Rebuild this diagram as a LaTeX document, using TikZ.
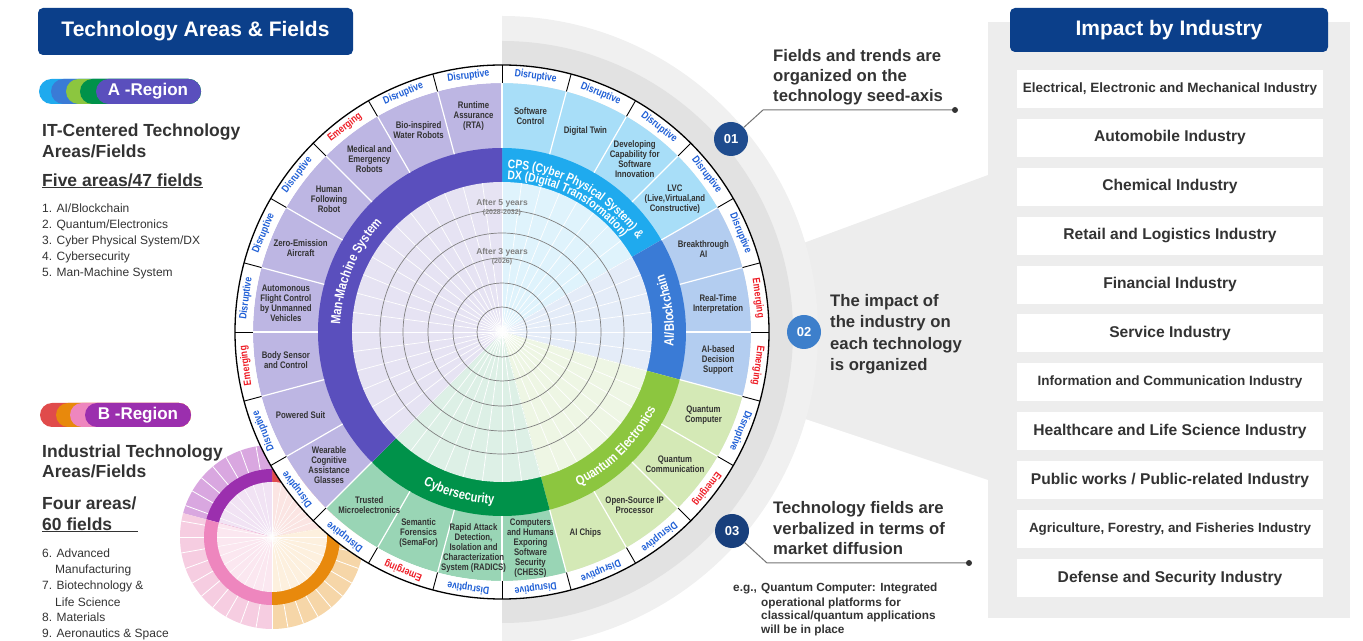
\documentclass[tikz,border=0pt]{standalone}
\usepackage{fontspec}
\setmainfont{Liberation Sans}
\newfontfamily\narrowfont[FakeStretch=0.82]{Liberation Sans}
\usetikzlibrary{decorations.text}

\definecolor{navy}{HTML}{0B3F8A}
\definecolor{ink}{HTML}{333333}
\definecolor{disblue}{HTML}{1F5FD6}
\definecolor{emgred}{HTML}{EE1C25}
\definecolor{panelgray}{HTML}{EDEDED}
\definecolor{ringgray}{HTML}{E2E2E2}
\definecolor{halogray}{HTML}{F0F0F0}
\definecolor{b01col}{HTML}{1F4C8E}
\definecolor{b02col}{HTML}{3D7FCB}
\definecolor{b03col}{HTML}{183F7C}
% area colours: Dark = area ring, Field = field ring, Core = inner disk
\definecolor{mmsDark}{HTML}{5A4FBD}\definecolor{mmsField}{HTML}{BDB6E3}\definecolor{mmsCore}{HTML}{E6E3F3}
\definecolor{cpsDark}{HTML}{1FAAEE}\definecolor{cpsField}{HTML}{A8DEF8}\definecolor{cpsCore}{HTML}{DFF3FC}
\definecolor{aiDark}{HTML}{3A7BD6}\definecolor{aiField}{HTML}{B3CDF0}\definecolor{aiCore}{HTML}{E4ECF8}
\definecolor{qeDark}{HTML}{8CC63F}\definecolor{qeField}{HTML}{D4E9B6}\definecolor{qeCore}{HTML}{EEF6E4}
\definecolor{csDark}{HTML}{00924A}\definecolor{csField}{HTML}{99D5B5}\definecolor{csCore}{HTML}{DDF0E6}
% small wheel (B region)
\definecolor{bredDark}{HTML}{E04B4B}\definecolor{bredField}{HTML}{F3B9B4}\definecolor{bredCore}{HTML}{FBE5E3}
\definecolor{bpurDark}{HTML}{9B2FAE}\definecolor{bpurField}{HTML}{D9A7E0}\definecolor{bpurCore}{HTML}{F1E3F4}
\definecolor{bpinkDark}{HTML}{EE86BE}\definecolor{bpinkField}{HTML}{F6CDE1}\definecolor{bpinkCore}{HTML}{FBE7F0}
\definecolor{boraDark}{HTML}{E8890C}\definecolor{boraField}{HTML}{F6D6A8}\definecolor{boraCore}{HTML}{FDF0DE}

\newcommand\areafont{\narrowfont\bfseries\fontsize{13.5}{14}\selectfont}
\newcommand\cpsfont{\narrowfont\bfseries\fontsize{12.5}{13}\selectfont}

\begin{document}
\begin{tikzpicture}[x=1pt, y=1pt,
  fieldtxt/.style={font=\narrowfont\bfseries\fontsize{9.5}{10}\selectfont, text=ink, align=center, inner sep=0pt},
  rim/.style={font=\narrowfont\bfseries\fontsize{10.5}{10.5}\selectfont, inner sep=0pt},
  Disruptive/.style={text=disblue},
  Emerging/.style={text=emgred},
  yearlbl/.style={text=gray, font=\bfseries\fontsize{8.5}{9}\selectfont, inner sep=0pt},
  badge/.style={circle, minimum size=34pt, inner sep=0pt, text=white, font=\bfseries\fontsize{13}{13}\selectfont},
  leader/.style={draw=gray!90!black, line width=1pt},
  note/.style={anchor=base west, text=ink, font=\bfseries\fontsize{16.7}{20}\selectfont, inner sep=0pt},
  egtxt/.style={anchor=base west, text=ink, font=\bfseries\fontsize{11.8}{14}\selectfont, inner sep=0pt},
  indbox/.style={fill=white, minimum width=306pt, minimum height=38pt, text=ink, inner sep=0pt},
  head/.style={fill=navy, rounded corners=5pt, text=white, font=\bfseries\fontsize{21}{21}\selectfont},
  sidehead/.style={anchor=base west, text=ink, font=\bfseries\fontsize{17.5}{21}\selectfont, inner sep=0pt},
  item/.style={anchor=base west, text=ink, font=\fontsize{12}{16}\selectfont, inner sep=0pt},
  pilltxt/.style={text=white, font=\bfseries\fontsize{17}{17}\selectfont, inner sep=0pt}
]
\useasboundingbox (0,0) rectangle (1363,640);

% backdrop: funnel, industry panel, grey half rings
\fill[panelgray] (554,305) -- (988,465) -- (988,160) -- cycle;
\fill[panelgray] (988,22) rectangle (1350,618);
\fill[halogray] (502,-8) arc[start angle=-90, end angle=90, radius=316] -- cycle;
\fill[ringgray] (502,17) arc[start angle=-90, end angle=90, radius=291] -- cycle;

% small wheel of the B region
\begin{scope}[shift={(272,103)}]
  \foreach \st/\en/\grp in {10/90/bred, 90/165/bpur, 165/270/bpink, 270/370/bora} {
    \fill[fill=\grp Field] (0,0) -- (\st:92) arc[start angle=\st, end angle=\en, radius=92] -- cycle;
    \fill[fill=\grp Dark] (0,0) -- (\st:68) arc[start angle=\st, end angle=\en, radius=68] -- cycle;
    \fill[fill=\grp Core] (0,0) -- (\st:55) arc[start angle=\st, end angle=\en, radius=55] -- cycle;
  }
  \foreach \t in {0,10,...,350} {
    \draw[white, line width=0.5pt] (0,0) -- (\t:55);
    \draw[white, line width=0.8pt] (\t:68) -- (\t:92);
  }
\end{scope}

% main wheel
\begin{scope}[shift={(502,308)}]
  \foreach \st/\en/\grp in {30/90/cps, -15/30/ai, -75/-15/qe, -135/-75/cs, 90/225/mms} {
    \fill[fill=\grp Field] (0,0) -- (\st:249) arc[start angle=\st, end angle=\en, radius=249] -- cycle;
    \fill[fill=\grp Dark] (0,0) -- (\st:184) arc[start angle=\st, end angle=\en, radius=184] -- cycle;
    \fill[fill=\grp Core] (0,0) -- (\st:150) arc[start angle=\st, end angle=\en, radius=150] -- cycle;
  }
  \fill[white, even odd rule] (0,0) circle (267) (0,0) circle (249);
  \foreach \t in {0,7.5,...,352.5}
    \draw[white, line width=0.7pt] (0,0) -- (\t:150);
  \foreach \t in {0,15,...,345} {
    \draw[white, line width=1.2pt] (\t:184) -- (\t:249);
    \draw[line width=0.9pt] (\t:249) -- (\t:267);
  }
  \draw[line width=1.3pt] (0,0) circle (267);
  \foreach \r in {25,49,74,99,122}
    \draw[gray, line width=0.7pt] (0,0) circle (\r);

  \node[yearlbl] (yr5) at (0,129) {After 5 years};
  \node[yearlbl, font=\bfseries\fontsize{7}{7}\selectfont] (yr5d) at (0,119) {(2028-2032)};
  \node[yearlbl] (yr3) at (0,80) {After 3 years};
  \node[yearlbl, font=\bfseries\fontsize{7}{7}\selectfont] (yr3d) at (0,70) {(2026)};

  % fields and their diffusion stage
  \foreach \ang/\kind/\lbl [count=\i] in {
    82.5/Disruptive/{Software\\Control},
    67.5/Disruptive/{Digital Twin},
    52.5/Disruptive/{Developing\\Capability for\\Software\\Innovation},
    37.5/Disruptive/{LVC\\(Live,Virtual,and\\Constructive)},
    22.5/Disruptive/{Breakthrough\\AI},
    7.5/Emerging/{Real-Time\\Interpretation},
    -7.5/Emerging/{AI-based\\Decision\\Support},
    -22.5/Disruptive/{Quantum\\Computer},
    -37.5/Emerging/{Quantum\\Communication},
    -52.5/Disruptive/{Open-Source IP\\Processor},
    -67.5/Disruptive/{AI Chips},
    -82.5/Disruptive/{Computers\\and Humans\\Exporing\\Software\\Security\\(CHESS)},
    -97.5/Disruptive/{Rapid Attack\\Detection,\\Isolation and\\Characterization\\System (RADICS)},
    -112.5/Emerging/{Semantic\\Forensics\\(SemaFor)},
    -127.5/Disruptive/{Trusted\\Microelectronics},
    -142.5/Disruptive/{Wearable\\Cognitive\\Assistance\\Glasses},
    -157.5/Disruptive/{Powered Suit},
    -172.5/Emerging/{Body Sensor\\and Control},
    172.5/Disruptive/{Automonous\\Flight Control\\by Unmanned\\Vehicles},
    157.5/Disruptive/{Zero-Emission\\Aircraft},
    142.5/Disruptive/{Human\\Following\\Robot},
    127.5/Emerging/{Medical and\\Emergency\\Robots},
    112.5/Disruptive/{Bio-inspired\\Water Robots},
    97.5/Disruptive/{Runtime\\Assurance\\(RTA)}} {
    \node[fieldtxt] (fld\i) at (\ang:218) {\lbl};
    \node[rim, \kind, rotate=\ang-90] (rim\i) at (\ang:258) {\kind};
  }

  % area names along the ring
  \path[decorate, decoration={text along path, text align=left, text color=white,
    text={|\cpsfont|CPS (Cyber Physical System) {\&}}}]
    (88:164) arc[start angle=88, end angle=20, radius=164];
  \path[decorate, decoration={text along path, text align=left, text color=white,
    text={|\cpsfont|DX (Digital Transformation)}}]
    (88:153) arc[start angle=88, end angle=20, radius=153];
  \path[decorate, decoration={text along path, text align=center, text color=white,
    text={|\areafont|AI/Blockchain}}]
    (-15:172) arc[start angle=-15, end angle=30, radius=172];
  \path[decorate, decoration={text along path, text align=center, text color=white,
    text={|\areafont|Quantum Electronics}}]
    (-75:172) arc[start angle=-75, end angle=-15, radius=172];
  \path[decorate, decoration={text along path, text align=center, text color=white,
    text={|\areafont|Cybersecurity}}]
    (-135:172) arc[start angle=-135, end angle=-75, radius=172];
  \path[decorate, decoration={text along path, text align=center, text color=white,
    text={|\areafont|Man-Machine System}}]
    (225:162) arc[start angle=225, end angle=90, radius=162];
\end{scope}

% left column
\node[head, minimum width=315pt, minimum height=47pt] (ttlA) at (195.5,608.5) {Technology Areas \& Fields};
\foreach \x/\c in {39/cpsDark, 51/aiDark, 66/qeDark, 80/csDark, 96/mmsDark}
  \fill[fill=\c, rounded corners=12.5pt] (\x,536) rectangle (201,561);
\node[pilltxt] (pillA) at (148,548.5) {A -Region};
\node[sidehead] (itA1) at (42,503) {IT-Centered Technology};
\node[sidehead] (itA2) at (42,482) {Areas/Fields};
\node[sidehead] (cntA) at (42,453) {Five areas/47 fields};
\draw[ink, line width=1.2pt] (cntA.south west) -- (cntA.south east);
\foreach \lbl [count=\i from 0] in {1. AI/Blockchain, 2. Quantum/Electronics,
    3. Cyber Physical System/DX, 4. Cybersecurity, 5. Man-Machine System}
  \node[item] (listA\i) at (42,427-16*\i) {\lbl};

\foreach \x/\c in {40/bredDark, 56/boraDark, 70/bpinkDark, 85/bpurDark}
  \fill[fill=\c, rounded corners=12pt] (\x,213) rectangle (191,237);
\node[pilltxt] (pillB) at (138,225) {B -Region};
\node[sidehead] (itB1) at (42,182) {Industrial Technology};
\node[sidehead] (itB2) at (42,162) {Areas/Fields};
\node[sidehead] (cntB1) at (42,130) {Four areas/};
\node[sidehead] (cntB2) at (42,109) {60 fields};
\draw[ink, line width=1.2pt] (cntB2.south west) -- ++(96,0);
\foreach \x/\lbl [count=\i from 0] in {42/6. Advanced, 55/Manufacturing, 42/7. Biotechnology \&,
    55/Life Science, 42/8. Materials, 42/9. Aeronautics \& Space}
  \node[item] (listB\i) at (\x,82-16*\i) {\lbl};

% call-outs
\node[badge, fill=b01col] (b01) at (731,501) {01};
\coordinate (k01) at (763,530);
\coordinate (d01) at (955,530);
\draw[leader] (b01) -- (k01) -- (d01);
\fill[ink] (d01) circle (3);
\foreach \lbl [count=\i from 0] in {Fields and trends are, organized on the, technology seed-axis}
  \node[note] (n01\i) at (773,578-20*\i) {\lbl};

\node[badge, fill=b02col] (b02) at (804,308) {02};
\foreach \lbl [count=\i from 0] in {The impact of, the industry on, each technology, is organized}
  \node[note] (n02\i) at (830,333.5-21.5*\i) {\lbl};

\node[badge, fill=b03col] (b03) at (732,109) {03};
\coordinate (k03) at (767,77);
\coordinate (d03) at (969,77);
\draw[leader] (b03) -- (k03) -- (d03);
\fill[ink] (d03) circle (3);
\foreach \lbl [count=\i from 0] in {Technology fields are, verbalized in terms of, market diffusion}
  \node[note] (n03\i) at (773,126-20.5*\i) {\lbl};

\node[egtxt] (eg) at (733,48) {e.g.,};
\foreach \lbl [count=\i from 0] in {Quantum Computer: Integrated, operational platforms for,
    classical/quantum applications, will be in place}
  \node[egtxt] (egl\i) at (761,48-14*\i) {\lbl};

% industry panel
\node[head, minimum width=318pt, minimum height=44pt] (ttlI) at (1169,610) {Impact by Industry};
\foreach \sz/\lbl [count=\i from 0] in {
    13.5/{Electrical, Electronic and Mechanical Industry},
    15.6/{Automobile Industry},
    15.6/{Chemical Industry},
    15.6/{Retail and Logistics Industry},
    15.6/{Financial Industry},
    15.6/{Service Industry},
    13.5/{Information and Communication Industry},
    15.6/{Healthcare and Life Science Industry},
    15.6/{Public works / Public-related Industry},
    13.4/{Agriculture, Forestry, and Fisheries Industry},
    15.6/{Defense and Security Industry}}
  \node[indbox, font=\bfseries\fontsize{\sz}{\sz}\selectfont] (ind\i) at (1170,551-48.9*\i) {\lbl};
\end{tikzpicture}
\end{document}
